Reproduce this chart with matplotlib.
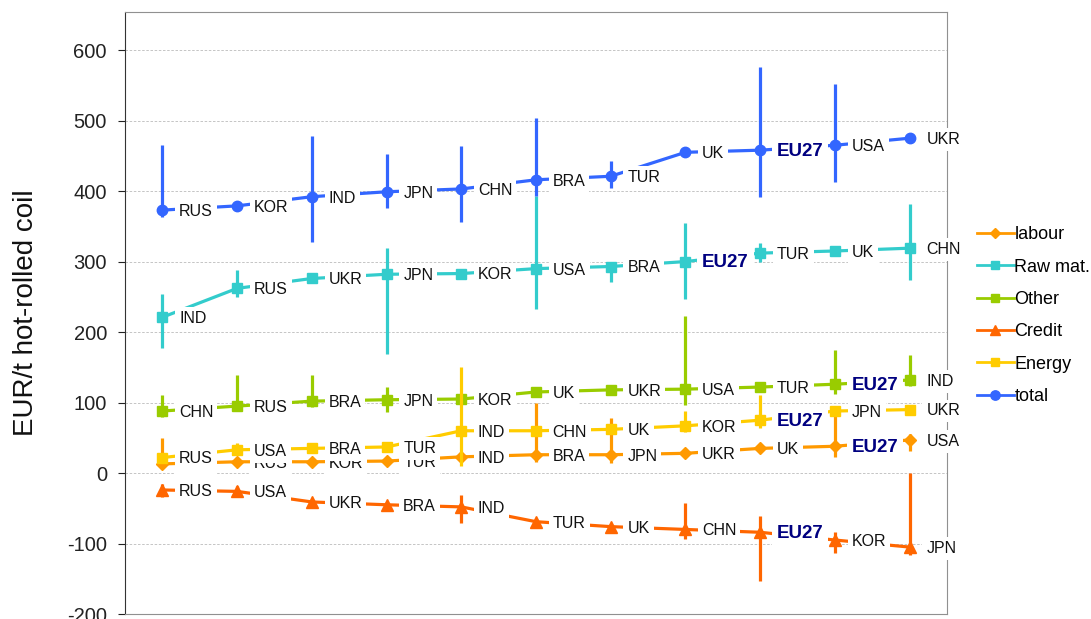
import numpy as np
import matplotlib.pyplot as plt
from matplotlib.lines import Line2D

plt.rcParams['font.family'] = ['Liberation Sans', 'DejaVu Sans']
plt.rcParams['axes.unicode_minus'] = False

rank = np.arange(1, 12)

# each cost component ranked from cheapest to most expensive producer
labour_lbl = ['CHN', 'RUS', 'KOR', 'TUR', 'IND', 'BRA', 'JPN', 'UKR', 'UK', 'EU27', 'USA']
labour_val = [13, 16, 16, 17, 23, 26, 26, 28, 35, 38, 47]
labour_lo = [7, 16, 16, 17, 23, 16, 14, 28, 35, 23, 31]
labour_hi = [50, 16, 16, 17, 23, 99, 78, 28, 35, 92, 55]

raw_lbl = ['IND', 'RUS', 'UKR', 'JPN', 'KOR', 'USA', 'BRA', 'EU27', 'TUR', 'UK', 'CHN']
raw_val = [221, 262, 276, 282, 283, 290, 293, 300, 312, 315, 319]
raw_lo = [177, 250, 276, 169, 283, 233, 271, 247, 300, 315, 274]
raw_hi = [254, 288, 276, 319, 283, 393, 299, 355, 326, 315, 382]

other_lbl = ['CHN', 'RUS', 'BRA', 'JPN', 'KOR', 'UK', 'UKR', 'USA', 'TUR', 'EU27', 'IND']
other_val = [88, 95, 102, 104, 105, 115, 118, 119, 122, 126, 132]
other_lo = [80, 95, 94, 86, 105, 115, 118, 96, 122, 112, 123]
other_hi = [111, 139, 139, 122, 105, 115, 118, 223, 122, 174, 167]

credit_lbl = ['RUS', 'USA', 'UKR', 'BRA', 'IND', 'TUR', 'UK', 'CHN', 'EU27', 'KOR', 'JPN']
credit_val = [-24, -26, -41, -45, -48, -69, -76, -80, -84, -95, -105]
credit_lo = [-34, -32, -41, -45, -71, -69, -76, -94, -153, -114, -116]
credit_hi = [-16, -18, -41, -45, -31, -69, -76, -42, -61, -84, 0]

energy_lbl = ['RUS', 'USA', 'BRA', 'TUR', 'IND', 'CHN', 'UK', 'KOR', 'EU27', 'JPN', 'UKR']
energy_val = [22, 33, 35, 37, 60, 60, 62, 67, 75, 88, 90]
energy_lo = [22, 26, 35, 37, 10, 60, 62, 58, 64, 88, 90]
energy_hi = [22, 42, 35, 37, 150, 60, 62, 88, 111, 94, 90]

total_lbl = ['RUS', 'KOR', 'IND', 'JPN', 'CHN', 'BRA', 'TUR', 'UK', 'EU27', 'USA', 'UKR']
total_val = [373, 379, 392, 399, 403, 416, 421, 455, 458, 465, 475]
total_lo = [363, 372, 328, 376, 356, 393, 405, 455, 392, 413, 475]
total_hi = [465, 381, 478, 452, 464, 503, 442, 455, 576, 552, 475]

series = [
    ('labour', labour_lbl, labour_val, labour_lo, labour_hi, '#FF9900', 'D', 6),
    ('Raw mat.', raw_lbl, raw_val, raw_lo, raw_hi, '#33CCCC', 's', 7),
    ('Other', other_lbl, other_val, other_lo, other_hi, '#99CC00', 's', 6.5),
    ('Credit', credit_lbl, credit_val, credit_lo, credit_hi, '#FF6600', '^', 8),
    ('Energy', energy_lbl, energy_val, energy_lo, energy_hi, '#FFCC00', 's', 6.5),
    ('total', total_lbl, total_val, total_lo, total_hi, '#3366FF', 'o', 7.5),
]

fig = plt.figure(figsize=(10.91, 6.19), dpi=100)
ax = fig.add_axes([0.1146, 0.008, 0.7534, 0.9726])

handles = []
for i, (name, lbl, val, lo, hi, col, mk, ms) in enumerate(series):
    val = np.array(val, dtype=float)
    err = [val - np.array(lo), np.array(hi) - val]
    z = 3 + 2 * i
    ax.errorbar(rank, val, yerr=err, color=col, ecolor=col, elinewidth=2.3,
                capsize=0, marker=mk, markersize=ms, linewidth=2.3, zorder=z)
    for x, y, t in zip(rank, val, lbl):
        if t == 'EU27':
            kw = dict(fontsize=13.5, fontweight='bold', color='#000080')
        else:
            kw = dict(fontsize=11.5, color='#111111')
        ax.annotate(t, (x, y), xytext=(12, -1), textcoords='offset points',
                    ha='left', va='center', zorder=z + 1,
                    bbox=dict(boxstyle='square,pad=0.25', fc='white', ec='none'),
                    **kw)
    handles.append(Line2D([], [], color=col, marker=mk, markersize=ms * 0.9,
                          linewidth=2, label=name))

ax.set_xlim(0.5, 11.5)
ax.set_ylim(-200, 654)
ax.set_yticks(np.arange(-200, 601, 100))
ax.set_xticks([])
ax.tick_params(axis='y', labelsize=14.5, colors='#222222', length=5, pad=8)
ax.yaxis.grid(True, linestyle=(0, (3, 2)), linewidth=0.6, color='#BBBBBB', zorder=0)
ax.set_axisbelow(True)
for s in ['top', 'right', 'bottom']:
    ax.spines[s].set_color('#909090')
ax.spines['left'].set_color('#333333')

ax.set_ylabel('EUR/t hot-rolled coil', fontsize=20, labelpad=20, color='#111111')

fig.legend(handles=handles, loc='center left', bbox_to_anchor=(0.881, 0.49),
           frameon=False, fontsize=13, handlelength=2.0, handletextpad=0.05,
           labelspacing=0.85)

fig.savefig('out.png', dpi=100)
